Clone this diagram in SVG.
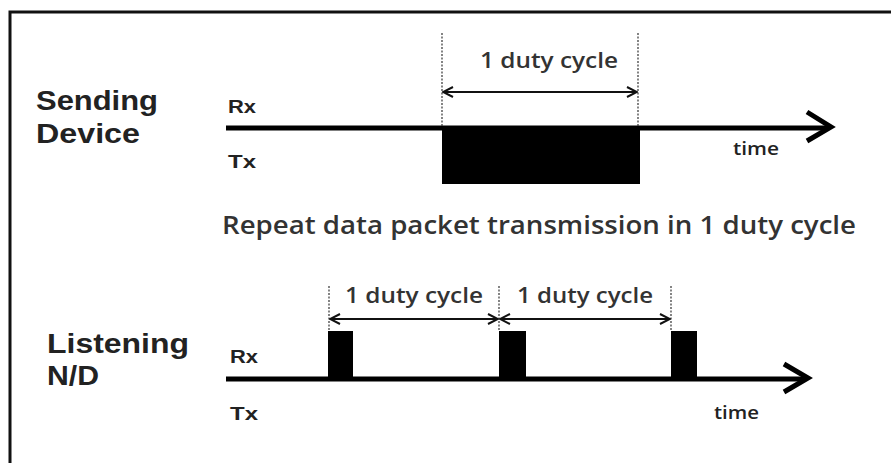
<svg xmlns="http://www.w3.org/2000/svg" width="891" height="463" viewBox="0 0 891 463">
<defs>
<style>
.title{font-family:"Liberation Sans",Arial,sans-serif;font-weight:900;font-size:27px;fill:#222;}
.lbl{font-family:"Liberation Sans",Arial,sans-serif;font-weight:bold;font-size:18px;fill:#222;}
.dc{font-family:"Open Sans","Liberation Sans",sans-serif;font-size:22px;font-weight:600;fill:#333;}
.time{font-family:"Open Sans","Liberation Sans",sans-serif;font-size:18px;font-weight:600;fill:#222;}
.big{font-family:"Open Sans","Liberation Sans",sans-serif;font-size:26px;font-weight:600;fill:#333;}
.axis{stroke:#000;stroke-width:5;fill:none;}
.dash{stroke:#333;stroke-width:1.2;stroke-dasharray:2 1.5;fill:none;}
.dim{stroke:#111;stroke-width:2;fill:none;}
.pulse{fill:#000;}
</style>
<marker id="open" viewBox="0 0 12 12" refX="11" refY="6" markerWidth="12" markerHeight="12" markerUnits="userSpaceOnUse" orient="auto-start-reverse">
<path d="M1,1 L11,6 L1,11" fill="none" stroke="#111" stroke-width="2"/>
</marker>
</defs>
<rect x="0" y="0" width="891" height="463" fill="#fff"/>
<path d="M10,470 L10,12 L900,12" fill="none" stroke="#111" stroke-width="3"/>

<g id="sending">
<text class="title" x="36" y="110" textLength="122" lengthAdjust="spacingAndGlyphs">Sending</text>
<text class="title" x="36" y="143" textLength="104" lengthAdjust="spacingAndGlyphs">Device</text>
<text class="lbl" x="228" y="113" textLength="28" lengthAdjust="spacingAndGlyphs">Rx</text>
<text class="lbl" x="228" y="168" textLength="28" lengthAdjust="spacingAndGlyphs">Tx</text>
<rect class="pulse" x="442" y="126" width="198" height="58"/>
<text class="time" x="733" y="155" textLength="46" lengthAdjust="spacingAndGlyphs">time</text>
</g>

<g id="caption">
<text class="big" x="222" y="234" textLength="634" lengthAdjust="spacingAndGlyphs">Repeat data packet transmission in 1 duty cycle</text>
</g>

<g id="listening">
<text class="title" x="47" y="353" textLength="142" lengthAdjust="spacingAndGlyphs">Listening</text>
<text class="title" x="47" y="385" textLength="52" lengthAdjust="spacingAndGlyphs">N/D</text>
<text class="lbl" x="230" y="363" textLength="28" lengthAdjust="spacingAndGlyphs">Rx</text>
<text class="lbl" x="230" y="420" textLength="28" lengthAdjust="spacingAndGlyphs">Tx</text>
<rect class="pulse" x="328" y="331" width="25" height="48"/>
<rect class="pulse" x="499" y="331" width="27" height="48"/>
<rect class="pulse" x="671" y="331" width="26" height="48"/>
<text class="time" x="714" y="419" textLength="45" lengthAdjust="spacingAndGlyphs">time</text>
</g>

<g id="connectors">
<path class="axis" d="M226,128 L829,128"/>
<path d="M807,112 L831,127 L807,141" fill="none" stroke="#000" stroke-width="5"/>
<path class="dash" d="M442,33 L442,126 M638,33 L638,126"/>
<path class="dim" d="M443,92 L637,92" marker-start="url(#open)" marker-end="url(#open)"/>
<text class="dc" x="480" y="68" textLength="138" lengthAdjust="spacingAndGlyphs">1 duty cycle</text>

<path class="axis" d="M226,379 L806,379"/>
<path d="M784,364 L808,378 L784,392" fill="none" stroke="#000" stroke-width="5"/>
<path class="dash" d="M329,286 L329,331 M499,286 L499,331 M671,286 L671,331"/>
<path class="dim" d="M330,319 L498,319" marker-start="url(#open)" marker-end="url(#open)"/>
<path class="dim" d="M500,319 L670,319" marker-start="url(#open)" marker-end="url(#open)"/>
<text class="dc" x="345" y="303" textLength="138" lengthAdjust="spacingAndGlyphs">1 duty cycle</text>
<text class="dc" x="517" y="303" textLength="136" lengthAdjust="spacingAndGlyphs">1 duty cycle</text>
</g>
</svg>
